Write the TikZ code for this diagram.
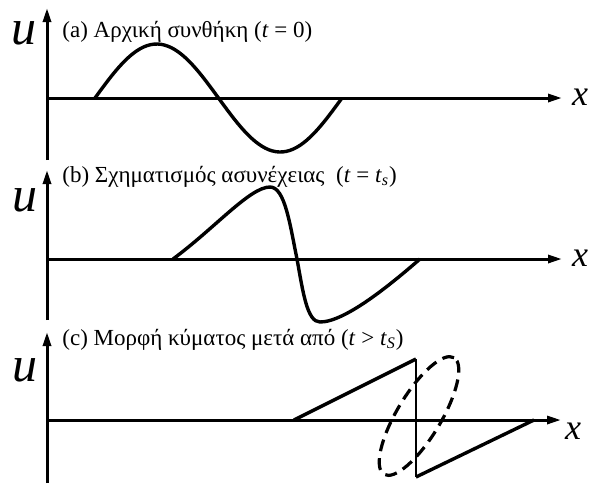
\documentclass[tikz,border=0pt]{standalone}
\usepackage{fontspec}
\setmainfont{Liberation Serif}[ItalicFont={Liberation Serif Italic}]
\usetikzlibrary{arrows.meta}
\tikzset{
  axis/.style={black,line width=1.5pt,-{Triangle[length=7pt,width=4pt]}},
  wave/.style={black,line width=1.7pt,line join=round},
  caption/.style={anchor=base west,inner sep=0pt,font=\fontsize{11.5}{14}\selectfont},
  ulabel/.style={inner sep=0pt,font=\fontsize{25}{28}\selectfont\itshape},
  xlabel/.style={inner sep=0pt,font=\fontsize{18}{20}\selectfont\itshape},
}

\begin{document}
\begin{tikzpicture}[x=0.5pt,y=-0.5pt]
  \useasboundingbox (0,0) rectangle (589,484);

  % (a)
  \coordinate (abot) at (47,160);
  \coordinate (atop) at (47,8);
  \coordinate (aorg) at (47,98);
  \coordinate (aend) at (562,98);
  \draw [axis] (abot) -- (atop);
  \draw [axis] (aorg) -- (aend);
  \node [ulabel] (ua) at (24,33) {u};
  \node [xlabel] (xa) at (580,97) {x};
  \node [caption] (capa) at (62,37) {(a) Αρχική συνθήκη (\textit{t} = 0)};
  \draw [wave] plot[domain=0:360,samples=72] ({95+0.6861*\x},{98-54*sin(\x)});

  % (b)
  \coordinate (bbot) at (47,320);
  \coordinate (btop) at (47,170);
  \coordinate (borg) at (47,259);
  \coordinate (bend) at (562,259);
  \draw [axis] (bbot) -- (btop);
  \draw [axis] (borg) -- (bend);
  \node [ulabel] (ub) at (25,200) {u};
  \node [xlabel] (xb) at (580,258) {x};
  \node [caption] (capb) at (62,182) {(b) Σχηματισμός ασυνέχειας\ \ (\textit{t} = \textit{t}\textsubscript{\textit{s}})};
  \draw [wave] (173,259) .. controls (215,228) and (250,187) .. (270,187)
    .. controls (285,187) and (290,225) .. (297,259)
    .. controls (303,292) and (307,322) .. (320,322)
    .. controls (345,322) and (390,285) .. (420,259);

  % (c)
  \coordinate (cbot) at (47,483);
  \coordinate (ctop) at (47,332);
  \coordinate (corg) at (47,420);
  \coordinate (cend) at (561,420);
  \draw [axis] (cbot) -- (ctop);
  \draw [axis] (corg) -- (cend);
  \node [ulabel] (uc) at (25,370) {u};
  \node [xlabel] (xc) at (573,431) {x};
  \node [caption] (capc) at (62,345) {(c) Μορφή κύματος μετά από (\textit{t} > \textit{t}\textsubscript{\textit{S}})};
  \coordinate (cstart) at (294,420);
  \coordinate (shtop) at (416,359);
  \coordinate (shbot) at (416,477);
  \coordinate (cfin) at (534,420);
  \coordinate (shock) at (419,416);
  \draw [wave] (cstart) -- (shtop);
  \draw [black,line width=1pt] (shtop) -- (shbot);
  \draw [wave] (shbot) -- (cfin);
  \draw [black,line width=1.6pt,dash pattern=on 6pt off 3.5pt] (shock) ellipse [x radius=34pt,y radius=11pt,rotate=59];
\end{tikzpicture}
\end{document}
